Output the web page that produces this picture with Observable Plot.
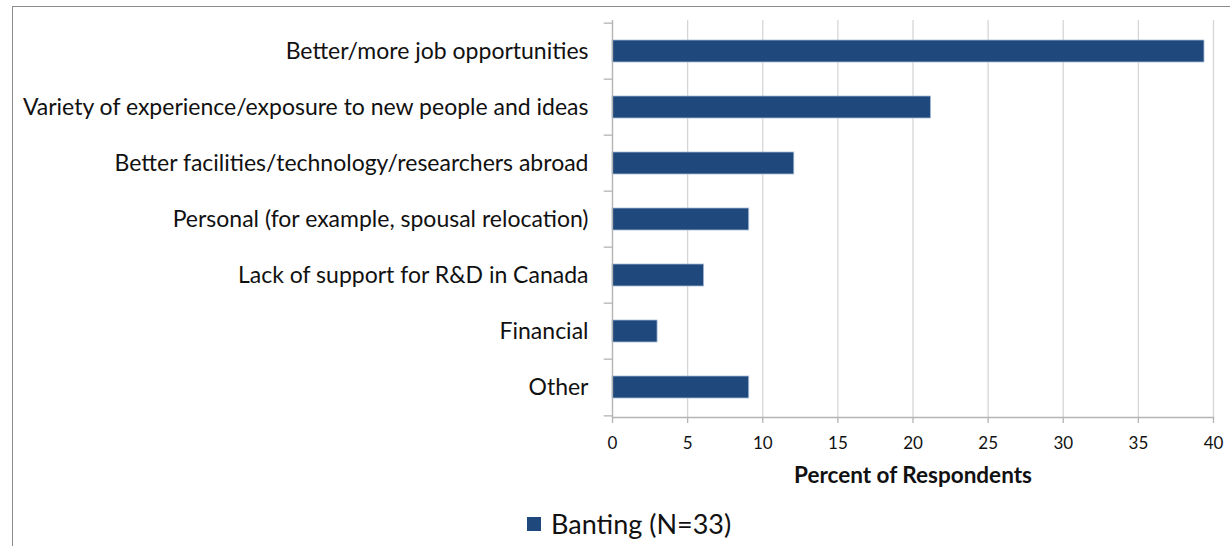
<!DOCTYPE html>
<html><head><meta charset="utf-8">
<script src="https://cdn.jsdelivr.net/npm/d3@7"></script>
<script src="https://cdn.jsdelivr.net/npm/@observablehq/plot@0.6"></script>
<style>
body{margin:0;background:#fff;width:1230px;height:546px;overflow:hidden;position:relative;font-family:Lato,"Open Sans",sans-serif;}
#frame{position:absolute;left:12px;top:6px;width:1230px;height:560px;border:1px solid #8c8c8c;box-sizing:border-box;}
#chart{position:absolute;left:0;top:0;}
#legend{position:absolute;left:527px;top:507px;display:flex;align-items:center;font-size:27px;color:#111;}
#legend .sw{width:14px;height:14px;background:#1f497d;margin-right:10px;}
</style></head>
<body>
<div id="frame"></div>
<div id="chart"></div>
<div id="legend"><div class="sw"></div><span>Banting (N=33)</span></div>
<script>
const categories = [
  "Better/more job opportunities",
  "Variety of experience/exposure to new people and ideas",
  "Better facilities/technology/researchers abroad",
  "Personal (for example, spousal relocation)",
  "Lack of support for R&D in Canada",
  "Financial",
  "Other"
];
const values = [39.4, 21.2, 12.1, 9.1, 6.1, 3.0, 9.1];
const xTicks = [0,5,10,15,20,25,30,35,40];
const seriesName = "Banting (N=33)";
const xLabel = "Percent of Respondents";

const data = categories.map((c,i)=>({category:c, value:values[i]}));
const W = 1230, H = 490, mT = 20, mB = 73, mL = 612, mR = 17;
const step = (H - mT - mB) / categories.length;
const axisColor = "#b4b4b4";

const plot = Plot.plot({
  width: W, height: H,
  marginTop: mT, marginBottom: mB, marginLeft: mL, marginRight: mR,
  style: {fontFamily: "Lato, 'Open Sans', sans-serif", background: "transparent", overflow: "visible"},
  x: {domain: [0, 40], ticks: xTicks},
  y: {domain: categories, paddingInner: 0.61, paddingOuter: 0.305},
  marks: [
    Plot.gridX(xTicks, {stroke: "#d6d6d6", strokeOpacity: 1, strokeWidth: 1.3}),
    Plot.barX(data, {x: "value", y: "category", fill: "#1f497d", stroke: "#a9bcd6", strokeWidth: 0.8}),
    Plot.ruleX([0], {stroke: axisColor, strokeWidth: 1.3}),
    Plot.frame({anchor: "bottom", stroke: axisColor, strokeWidth: 1.3}),
    // category boundary ticks on y axis
    Plot.ruleY(categories, {y: d => d, x1: -0.55, x2: 0, dy: -step/2, stroke: axisColor, strokeWidth: 1.3}),
    Plot.ruleY(categories.slice(-1), {y: d => d, x1: -0.55, x2: 0, dy: step/2, stroke: axisColor, strokeWidth: 1.3}),
    Plot.axisX(xTicks, {tickSize: 6, tickPadding: 13, fontSize: 17, stroke: axisColor, strokeWidth: 1.3, color: "#111", label: null}),
    Plot.axisY({tickSize: 0, tickPadding: 24, fontSize: 23, color: "#111", label: null}),
    Plot.text([xLabel], {frameAnchor: "bottom", dy: 65, fontSize: 22.5, fontWeight: "bold", fill: "#111"})
  ]
});
document.getElementById("chart").appendChild(plot);
</script>
</body></html>
